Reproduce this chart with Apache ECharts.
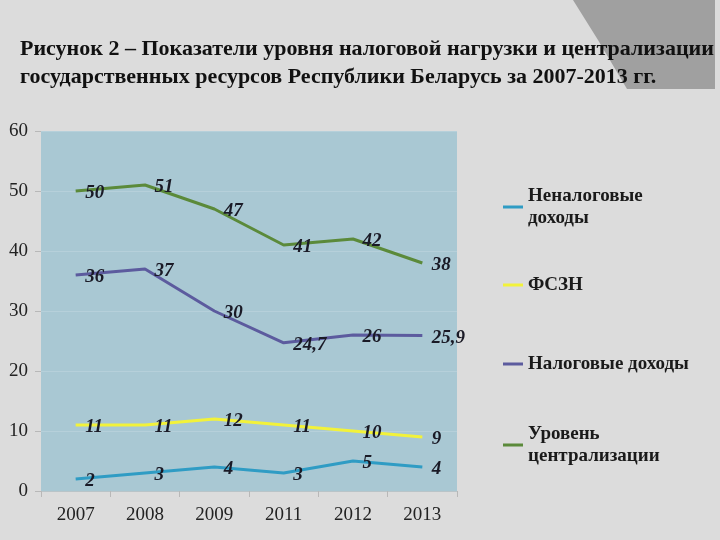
<!DOCTYPE html>
<html>
<head>
<meta charset="utf-8">
<script src="https://cdn.jsdelivr.net/npm/echarts@6/dist/echarts.min.js"></script>
<style>
  html, body { margin: 0; padding: 0; background: #dcdcdc; }
  #chart { width: 720px; height: 540px; }
</style>
</head>
<body>
<div id="chart"></div>
<script>
// годы
const years = ['2007', '2008', '2009', '2011', '2012', '2013'];
// ряды данных, %
const nonTax = [2, 3, 4, 3, 5, 4];
const fszn = [11, 11, 12, 11, 10, 9];
const tax = [36, 37, 30, 24.7, 26, 25.9];
const central = [50, 51, 47, 41, 42, 38];

const serif = '"Liberation Serif", "DejaVu Serif", serif';

function makeSeries(name, data, color) {
  return {
    name: name,
    type: 'line',
    data: data,
    symbol: 'circle',
    symbolSize: 1,
    showSymbol: true,
    itemStyle: { color: 'rgba(0,0,0,0)' },
    lineStyle: { width: 3, color: color },
    label: {
      show: true,
      position: 'right',
      distance: 9,
      offset: [0, 2],
      fontFamily: serif,
      fontStyle: 'italic',
      fontWeight: 'bold',
      fontSize: 19,
      color: '#1a1a26',
      formatter: p => String(p.value).replace('.', ',')
    }
  };
}

// одна легенда на пункт, чтобы поставить их как на картинке
function makeLegend(name, color, top, twoLines) {
  return {
    data: [{ name: name, icon: 'rect', itemStyle: { color: color, opacity: 1 } }],
    left: 498,
    top: top,
    orient: 'vertical',
    itemWidth: 20,
    itemHeight: 3,
    formatter: n => twoLines ? n.replace(' ', '\n') : n,
    textStyle: {
      fontFamily: serif,
      fontWeight: 'bold',
      fontSize: 19,
      lineHeight: 22,
      color: '#1a1a1a',
      padding: twoLines ? [22, 0, 0, 0] : 0
    }
  };
}

const chart = echarts.init(document.getElementById('chart'));
chart.setOption({
  backgroundColor: '#dcdcdc',
  animation: false,
  title: {
    text: 'Рисунок 2 – Показатели уровня налоговой нагрузки и централизации\nгосударственных ресурсов Республики Беларусь за 2007-2013 гг.',
    left: 15,
    top: 30,
    textStyle: {
      fontFamily: serif,
      fontWeight: 'bold',
      fontSize: 22,
      lineHeight: 28,
      color: '#111'
    }
  },
  graphic: [{
    type: 'polygon',
    z: -10,
    shape: { points: [[573, 0], [715, 0], [715, 89], [627, 89], [598, 40]] },
    style: { fill: '#a0a0a0' }
  }],
  legend: [
    makeLegend('Неналоговые доходы', '#2f9cc4', 169, true),
    makeLegend('ФСЗН', '#f2f23a', 269, false),
    makeLegend('Налоговые доходы', '#5c5b9e', 348, false),
    makeLegend('Уровень централизации', '#5b8a3a', 407, true)
  ],
  grid: {
    left: 41, right: 263, top: 131, bottom: 49,
    show: true,
    backgroundColor: '#a9c8d3',
    borderWidth: 0
  },
  xAxis: {
    type: 'category',
    data: years,
    boundaryGap: true,
    axisLine: { lineStyle: { color: '#b9c4c8', width: 1 } },
    axisTick: { show: true, length: 6, lineStyle: { color: '#b8b8b8' } },
    axisLabel: { fontFamily: serif, fontSize: 19, color: '#222', margin: 15 }
  },
  yAxis: {
    type: 'value',
    min: 0,
    max: 60,
    interval: 10,
    axisLine: { show: false },
    axisTick: { show: true, length: 6, lineStyle: { color: '#b8b8b8' } },
    axisLabel: { fontFamily: serif, fontSize: 19, color: '#222', margin: 13 },
    splitLine: { lineStyle: { color: '#b6d0da', width: 1 } }
  },
  series: [
    makeSeries('Неналоговые доходы', nonTax, '#2f9cc4'),
    makeSeries('ФСЗН', fszn, '#f2f23a'),
    makeSeries('Налоговые доходы', tax, '#5c5b9e'),
    makeSeries('Уровень централизации', central, '#5b8a3a')
  ]
});
</script>
</body>
</html>
